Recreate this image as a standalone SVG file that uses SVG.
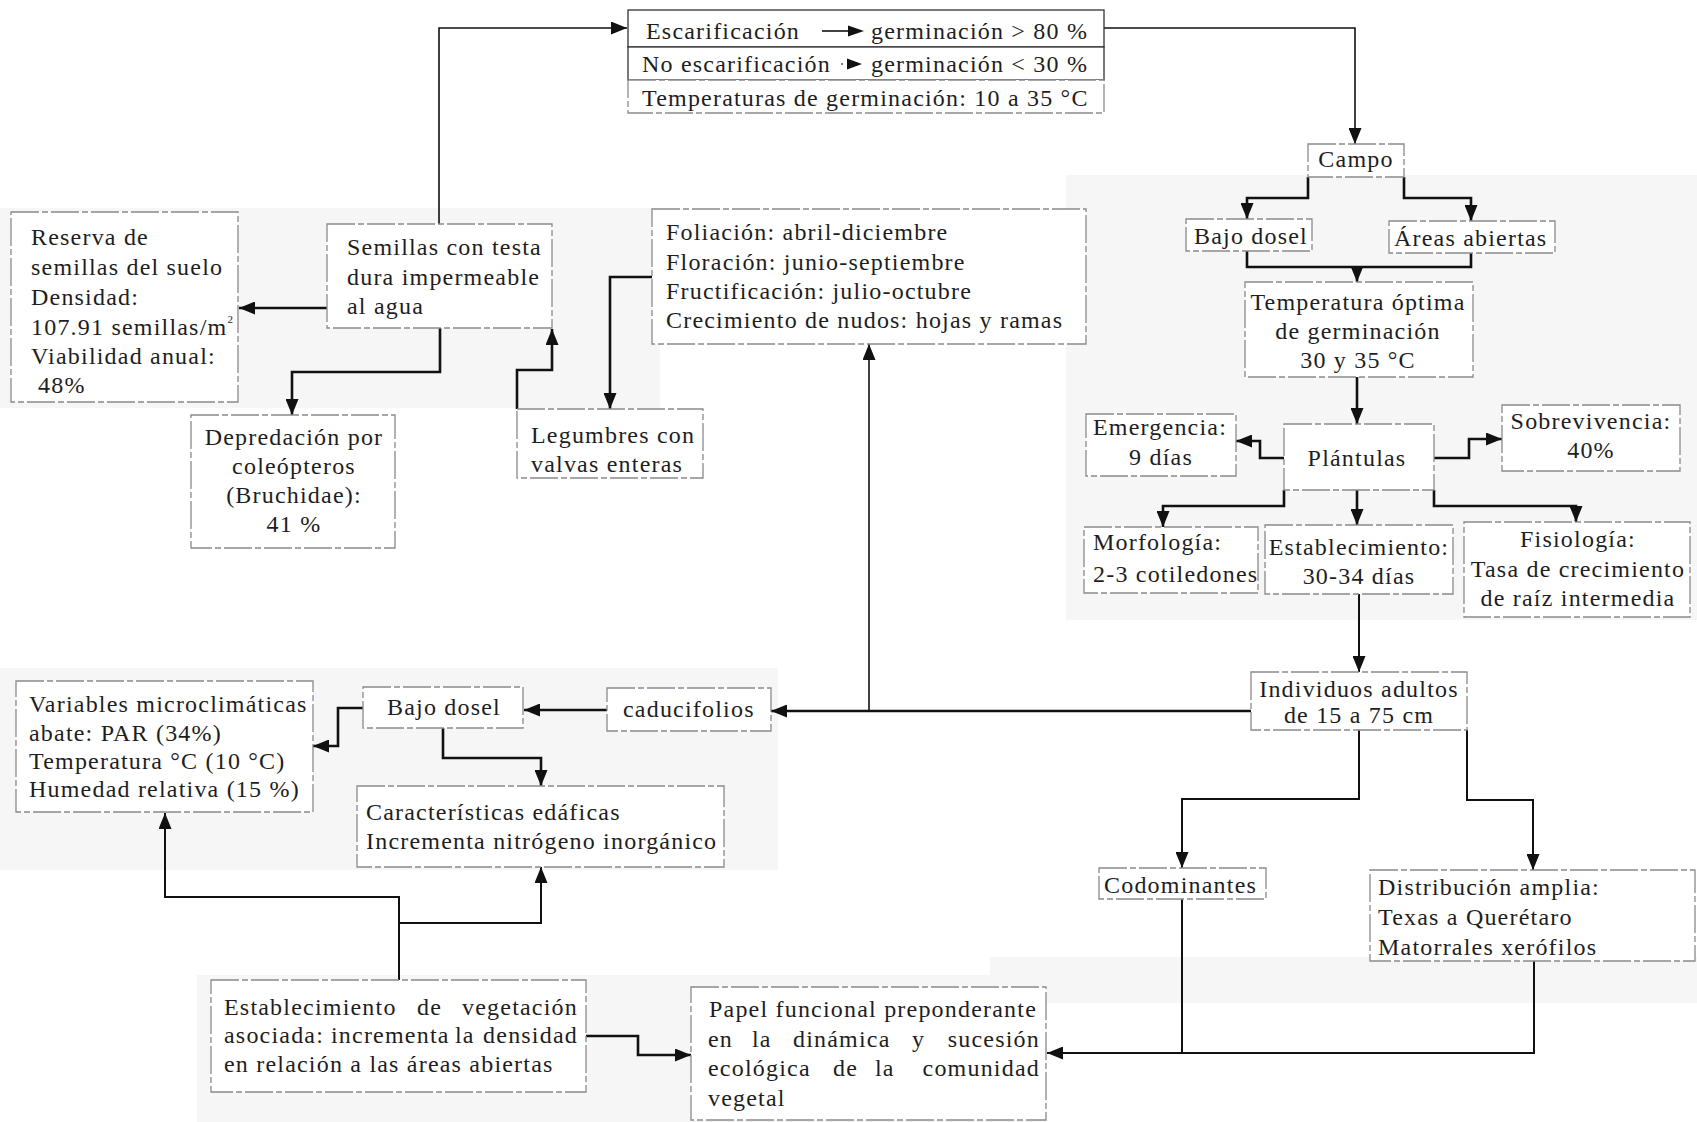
<svg xmlns="http://www.w3.org/2000/svg" width="1697" height="1122" viewBox="0 0 1697 1122">
<defs>
<style>
.bg{fill:#f6f6f6}
.box{fill:#ffffff;stroke:#8a8a8a;stroke-width:1.3;stroke-dasharray:28 3 6 3}
.box2{fill:#ffffff;stroke:#333;stroke-width:1.3}
.t{font-family:"Liberation Serif","Times New Roman",serif;font-size:24px;letter-spacing:1.2px;fill:#1e1e1e}
.m{text-anchor:middle}
.e{text-anchor:end}
.conn{fill:none;stroke:#111;stroke-width:2.6;stroke-linejoin:miter}
.thin{stroke-width:1.6}
.mid{stroke-width:2}
</style>
<marker id="ah" markerUnits="userSpaceOnUse" markerWidth="16" markerHeight="13" refX="16" refY="6.5" orient="auto">
<path d="M0,0 L16,6.5 L0,13 z" fill="#111"/>
</marker>
</defs>
<rect x="0" y="0" width="1697" height="1122" fill="#ffffff"/>
<g id="background">
<rect class="bg" x="0" y="208" width="660" height="200"/>
<rect class="bg" x="1066" y="175" width="631" height="445"/>
<rect class="bg" x="0" y="668" width="778" height="202"/>
<rect class="bg" x="197" y="975" width="850" height="147"/>
<rect class="bg" x="990" y="957" width="707" height="46"/>
</g>

<g id="connectors">
<path class="conn thin" d="M439,224 V28 H627" marker-end="url(#ah)"/>
<path class="conn thin" d="M1104,28 H1355 V144" marker-end="url(#ah)"/>
<path class="conn" d="M1308,177 V198 H1247 V219" marker-end="url(#ah)"/>
<path class="conn" d="M1404,177 V198 H1471 V221" marker-end="url(#ah)"/>
<path class="conn" d="M1247,251 V267 H1471 V253"/>
<path class="conn" d="M1357,267 V282" marker-end="url(#ah)"/>
<path class="conn" d="M1357,377 V424" marker-end="url(#ah)"/>
<path class="conn" d="M1284,458 H1260 V441 H1236" marker-end="url(#ah)"/>
<path class="conn" d="M1434,458 H1469 V439 H1502" marker-end="url(#ah)"/>
<path class="conn" d="M1284,490 V506 H1163 V527" marker-end="url(#ah)"/>
<path class="conn" d="M1357,490 V525" marker-end="url(#ah)"/>
<path class="conn" d="M1434,490 V506 H1576 V522" marker-end="url(#ah)"/>
<path class="conn mid" d="M1359,594 V672" marker-end="url(#ah)"/>
<path class="conn" d="M1251,711 H771" marker-end="url(#ah)"/>
<path class="conn thin" d="M869,711 V344" marker-end="url(#ah)"/>
<path class="conn" d="M607,710 H524" marker-end="url(#ah)"/>
<path class="conn" d="M363,708 H338 V746 H313" marker-end="url(#ah)"/>
<path class="conn" d="M443,728 V758 H541 V786" marker-end="url(#ah)"/>
<path class="conn mid" d="M399,980 V897 H165 V813" marker-end="url(#ah)"/>
<path class="conn mid" d="M399,923 H541 V867" marker-end="url(#ah)"/>
<path class="conn" d="M586,1036 H638 V1055 H691" marker-end="url(#ah)"/>
<path class="conn mid" d="M1359,730 V799 H1182 V868" marker-end="url(#ah)"/>
<path class="conn mid" d="M1467,730 V800 H1533 V870" marker-end="url(#ah)"/>
<path class="conn mid" d="M1182,899 V1053"/>
<path class="conn mid" d="M1534,961 V1053 H1047" marker-end="url(#ah)"/>
<path class="conn" d="M327,308 H239" marker-end="url(#ah)"/>
<path class="conn" d="M440,328 V372 H292 V415" marker-end="url(#ah)"/>
<path class="conn" d="M517,409 V370 H552 V329" marker-end="url(#ah)"/>
<path class="conn" d="M652,277 H610 V409" marker-end="url(#ah)"/>
</g>

<g id="escarificacion">
<rect class="box2" x="628" y="10" width="476" height="37"/>
<rect class="box2" x="628" y="47" width="476" height="33"/>
<rect class="box" x="628" y="80" width="476" height="33"/>
<text class="t" x="646" y="39">Escarificación</text>
<line x1="822" y1="31" x2="851" y2="31" stroke="#111" stroke-width="1.6"/>
<path d="M848,25.5 L864,31 L848,36.5 z" fill="#111"/>
<text class="t" x="871" y="39">germinación &gt; 80 %</text>
<text class="t" x="642" y="72">No escarificación</text>
<circle cx="842" cy="64" r="1" fill="#555"/>
<path d="M847,58.5 L862,64 L847,69.5 z" fill="#111"/>
<text class="t" x="871" y="72">germinación &lt; 30 %</text>
<text class="t" x="642" y="106">Temperaturas de germinación: 10 a 35 °C</text>
</g>

<g id="campo">
<rect class="box" x="1308" y="144" width="96" height="33"/>
<text class="t m" x="1356" y="167">Campo</text>
</g>

<g id="bajo-dosel-campo">
<rect class="box" x="1186" y="219" width="126" height="32"/>
<text class="t" x="1194" y="244">Bajo dosel</text>
</g>

<g id="areas-abiertas">
<rect class="box" x="1389" y="221" width="166" height="32"/>
<text class="t" x="1394" y="246">Áreas abiertas</text>
</g>

<g id="temperatura-optima">
<rect class="box" x="1245" y="282" width="228" height="95"/>
<text class="t m" x="1358" y="310">Temperatura óptima</text>
<text class="t m" x="1358" y="339">de germinación</text>
<text class="t m" x="1358" y="368">30 y 35 °C</text>
</g>

<g id="plantulas">
<rect class="box" x="1284" y="424" width="150" height="66"/>
<text class="t m" x="1357" y="466">Plántulas</text>
</g>

<g id="emergencia">
<rect class="box" x="1086" y="414" width="150" height="62"/>
<text class="t" x="1093" y="435">Emergencia:</text>
<text class="t m" x="1161" y="465">9 días</text>
</g>

<g id="sobrevivencia">
<rect class="box" x="1502" y="405" width="178" height="66"/>
<text class="t m" x="1591" y="429">Sobrevivencia:</text>
<text class="t m" x="1591" y="458">40%</text>
</g>

<g id="morfologia">
<rect class="box" x="1084" y="527" width="174" height="66"/>
<text class="t" x="1093" y="550">Morfología:</text>
<text class="t" x="1093" y="582">2-3 cotiledones</text>
</g>

<g id="establecimiento">
<rect class="box" x="1265" y="525" width="188" height="69"/>
<text class="t m" x="1359" y="555">Establecimiento:</text>
<text class="t m" x="1359" y="584">30-34 días</text>
</g>

<g id="fisiologia">
<rect class="box" x="1464" y="522" width="226" height="95"/>
<text class="t m" x="1578" y="547">Fisiología:</text>
<text class="t m" x="1578" y="577">Tasa de crecimiento</text>
<text class="t m" x="1578" y="606">de raíz intermedia</text>
</g>

<g id="individuos-adultos">
<rect class="box" x="1251" y="672" width="216" height="58"/>
<text class="t m" x="1359" y="697">Individuos adultos</text>
<text class="t m" x="1359" y="723">de 15 a 75 cm</text>
</g>

<g id="codominantes">
<rect class="box" x="1099" y="868" width="167" height="31"/>
<text class="t" x="1104" y="893">Codominantes</text>
</g>

<g id="distribucion">
<rect class="box" x="1370" y="870" width="325" height="91"/>
<text class="t" x="1378" y="895">Distribución amplia:</text>
<text class="t" x="1378" y="925">Texas a Querétaro</text>
<text class="t" x="1378" y="955">Matorrales xerófilos</text>
</g>

<g id="papel-funcional">
<rect class="box" x="691" y="987" width="355" height="133"/>
<text class="t" x="709" y="1017">Papel funcional preponderante</text>
<text class="t" x="708" y="1047">en</text>
<text class="t" x="752" y="1047">la</text>
<text class="t" x="793" y="1047">dinámica</text>
<text class="t" x="912" y="1047">y</text>
<text class="t e" x="1040" y="1047">sucesión</text>
<text class="t" x="708" y="1076">ecológica</text>
<text class="t" x="833" y="1076">de</text>
<text class="t" x="875" y="1076">la</text>
<text class="t e" x="1040" y="1076">comunidad</text>
<text class="t" x="708" y="1106">vegetal</text>
</g>

<g id="establecimiento-vegetacion">
<rect class="box" x="211" y="980" width="375" height="112"/>
<text class="t" x="224" y="1015">Establecimiento</text>
<text class="t" x="417" y="1015">de</text>
<text class="t e" x="578" y="1015">vegetación</text>
<text class="t" x="224" y="1043">asociada:</text>
<text class="t" x="331" y="1043">incrementa</text>
<text class="t" x="455" y="1043">la</text>
<text class="t e" x="578" y="1043">densidad</text>
<text class="t" x="224" y="1072">en relación a las áreas abiertas</text>
</g>

<g id="caracteristicas-edaficas">
<rect class="box" x="357" y="786" width="367" height="81"/>
<text class="t" x="366" y="820">Características edáficas</text>
<text class="t" x="366" y="849">Incrementa nitrógeno inorgánico</text>
</g>

<g id="variables-microclimaticas">
<rect class="box" x="16" y="681" width="297" height="131"/>
<text class="t" x="29" y="712">Variables microclimáticas</text>
<text class="t" x="29" y="741">abate: PAR (34%)</text>
<text class="t" x="29" y="769">Temperatura °C (10 °C)</text>
<text class="t" x="29" y="797">Humedad relativa (15 %)</text>
</g>

<g id="bajo-dosel">
<rect class="box" x="363" y="687" width="160" height="41"/>
<text class="t m" x="444" y="715">Bajo dosel</text>
</g>

<g id="caducifolios">
<rect class="box" x="607" y="688" width="164" height="43"/>
<text class="t" x="623" y="717">caducifolios</text>
</g>

<g id="fenologia">
<rect class="box" x="652" y="209" width="434" height="135"/>
<text class="t" x="666" y="240">Foliación: abril-diciembre</text>
<text class="t" x="666" y="270">Floración: junio-septiembre</text>
<text class="t" x="666" y="299">Fructificación: julio-octubre</text>
<text class="t" x="666" y="328">Crecimiento de nudos: hojas y ramas</text>
</g>

<g id="legumbres">
<rect class="box" x="517" y="409" width="186" height="69"/>
<text class="t" x="531" y="443">Legumbres con</text>
<text class="t" x="531" y="472">valvas enteras</text>
</g>

<g id="semillas">
<rect class="box" x="327" y="224" width="225" height="104"/>
<text class="t" x="347" y="255">Semillas con testa</text>
<text class="t" x="347" y="285">dura impermeable</text>
<text class="t" x="347" y="314">al agua</text>
</g>

<g id="reserva">
<rect class="box" x="11" y="212" width="227" height="190"/>
<text class="t" x="31" y="245">Reserva de</text>
<text class="t" x="31" y="275">semillas del suelo</text>
<text class="t" x="31" y="305">Densidad:</text>
<text class="t" x="31" y="335">107.91 semillas/m<tspan font-size="11" dy="-12">2</tspan></text>
<text class="t" x="31" y="364">Viabilidad anual:</text>
<text class="t" x="38" y="393">48%</text>
</g>

<g id="depredacion">
<rect class="box" x="191" y="415" width="204" height="133"/>
<text class="t m" x="294" y="445">Depredación por</text>
<text class="t m" x="294" y="474">coleópteros</text>
<text class="t m" x="294" y="503">(Bruchidae):</text>
<text class="t m" x="294" y="532">41 %</text>
</g>
</svg>
